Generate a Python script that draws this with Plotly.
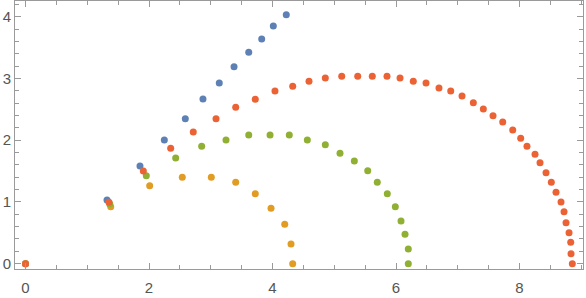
import plotly.graph_objects as go

blue_x = [0, 1.32, 1.854, 2.248, 2.588, 2.874, 3.138, 3.377, 3.615, 3.825, 4.013, 4.223]
blue_y = [0, 1.03, 1.582, 2.003, 2.348, 2.667, 2.926, 3.190, 3.423, 3.639, 3.850, 4.032]

gold_x = [0, 1.380, 2.011, 2.539, 3.009, 3.404, 3.721, 3.976, 4.198, 4.300, 4.327]
gold_y = [0, 0.923, 1.263, 1.399, 1.399, 1.318, 1.134, 0.897, 0.638, 0.319, 0.0]

green_x = [0, 1.364, 1.956, 2.432, 2.853, 3.247, 3.615, 3.960, 4.272, 4.564, 4.855,
           5.093, 5.325, 5.542, 5.697, 5.859, 5.989, 6.081, 6.146, 6.199, 6.199]
green_y = [0, 0.967, 1.425, 1.712, 1.901, 2.003, 2.084, 2.084, 2.084, 2.003, 1.927,
           1.788, 1.663, 1.506, 1.318, 1.134, 0.923, 0.692, 0.476, 0.238, 0.0]

red_x = [0, 1.352, 1.908, 2.351, 2.717, 3.085, 3.404, 3.721, 4.040, 4.327, 4.591,
         4.855, 5.121, 5.380, 5.616, 5.854, 6.065, 6.280, 6.486, 6.696, 6.886,
         7.069, 7.252, 7.414, 7.571, 7.728, 7.890, 8.019, 8.121, 8.251, 8.332,
         8.429, 8.515, 8.591, 8.672, 8.721, 8.753, 8.802, 8.829, 8.834, 8.855]
red_y = [0, 0.994, 1.501, 1.869, 2.133, 2.348, 2.533, 2.662, 2.797, 2.873, 2.954,
         3.007, 3.035, 3.035, 3.035, 3.035, 3.007, 2.954, 2.926, 2.845, 2.797,
         2.716, 2.607, 2.505, 2.397, 2.295, 2.165, 2.031, 1.901, 1.772, 1.636,
         1.474, 1.318, 1.156, 0.999, 0.842, 0.664, 0.502, 0.347, 0.162, 0.0]

x_ticks = [0, 2, 4, 6, 8]
y_ticks = [0, 1, 2, 3, 4]

series = [
    (blue_x, blue_y, "#5E81B5"),
    (gold_x, gold_y, "#E19C24"),
    (green_x, green_y, "#8FB032"),
    (red_x, red_y, "#EB6235"),
]

fig = go.Figure()
for xs, ys, c in series:
    fig.add_trace(go.Scatter(x=xs, y=ys, mode="markers",
                             marker=dict(size=7, color=c, line=dict(width=0)),
                             showlegend=False, hoverinfo="skip", cliponaxis=False))

frame = "#9a9a9a"
axis_common = dict(
    showgrid=False, zeroline=False, showline=True, linecolor=frame, linewidth=1,
    mirror="ticks", ticks="inside", ticklen=6, tickcolor=frame, tickwidth=1,
    automargin=False,
    tickfont=dict(family="Liberation Sans, Arial, sans-serif", size=15, color="#555555"),
)

fig.update_xaxes(range=[-0.170, 9.028], tickvals=x_ticks, ticktext=[str(v) for v in x_ticks],
                 ticklabelstandoff=5,
                 minor=dict(tickvals=[v * 0.5 for v in range(0, 19)], ticks="inside",
                            ticklen=4, tickcolor=frame, tickwidth=1),
                 **axis_common)
fig.update_yaxes(range=[-0.086, 4.254], tickvals=y_ticks, ticktext=[str(v) for v in y_ticks],
                 minor=dict(tickvals=[round(v * 0.2, 2) for v in range(0, 22)], ticks="inside",
                            ticklen=4, tickcolor=frame, tickwidth=1),
                 **axis_common)

fig.update_layout(
    width=586, height=298,
    margin=dict(l=15, r=3, t=1, b=29, pad=0),
    plot_bgcolor="white", paper_bgcolor="white",
)

fig.write_html("out.html", config={"displayModeBar": False, "staticPlot": True},
               post_script="document.body.style.margin='0';document.body.style.overflow='hidden';")
